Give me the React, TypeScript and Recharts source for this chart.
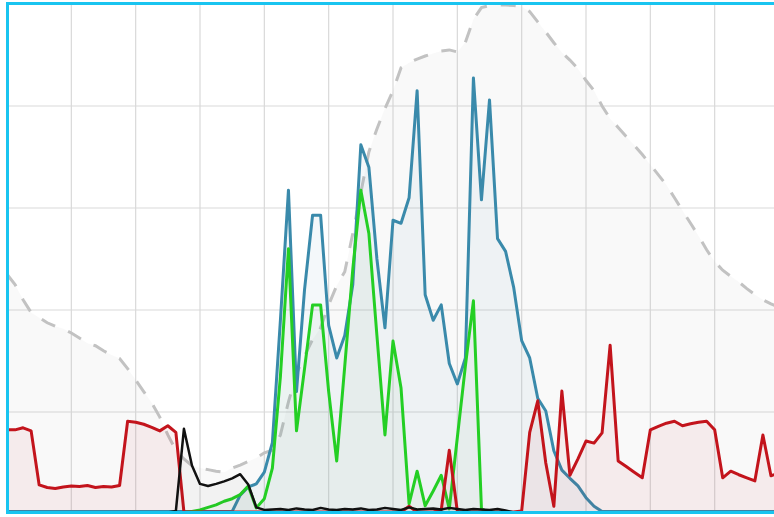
import React from 'react';
import { ComposedChart, Area, XAxis, YAxis, CartesianGrid } from 'recharts';

// category positions (sample index along the x axis)
const positions = [
  0, 1, 2, 3, 4, 5, 6, 7, 8, 9, 10, 11, 12, 13, 14, 15, 16, 17, 18, 19,
  20, 21, 22, 23, 24, 25, 26, 27, 28, 29, 30, 31, 32, 33, 34, 35, 36, 37, 38, 39,
  40, 41, 42, 43, 44, 45, 46, 47, 48, 49, 50, 51, 52, 53, 54, 55, 56, 57, 58, 59,
  60, 61, 62, 63, 64, 65, 66, 67, 68, 69, 70, 71, 72, 73, 74, 75, 76, 77, 78, 79,
  80, 81, 82, 83, 84, 85, 86, 87, 88, 89, 90, 91, 92, 93, 94, 95, 96,
];

const xTicks = [0, 8, 16, 24, 32, 40, 48, 56, 64, 72, 80, 88, 96];
const yTicks = [0, 20, 40, 60, 80, 100];

const graySeries = [
  47, 45, 42, 39.5, 38.5, 37.5, 36.8, 36.3, 35.5, 34.5,
  33.5, 33, 32, 31.2, 30.5, 28.5, 26.3, 24, 21.8, 19,
  15.5, 12.5, 10.8, 9.5, 9, 8.7, 8.4, 8.2, 9, 9.6,
  10.3, 11, 12, 12.5, 15.5, 22, 27.5, 31, 34.2, 36.5,
  41, 44.8, 47.5, 55, 63, 71, 75.5, 79.5, 83, 87.5,
  88.5, 89.2, 89.8, 90.3, 90.8, 91, 90.6, 92.5, 97, 99.3,
  99.7, 99.8, 99.8, 99.7, 99.5, 98.5, 96.5, 94.5, 92.4, 90.5,
  89, 87.3, 85, 83, 80, 77.5, 75.8, 74, 72.3, 70.5,
  68.5, 66.5, 64.5, 62, 59.5, 57, 54.5, 51.8, 49.5, 47.8,
  46.6, 45.5, 44.2, 43, 42, 41.2, 40.5,
];

const blueSeries = [
  0.5, 0.5, 0.5, 0.5, 0.5, 0.5, 0.5, 0.5, 0.5, 0.5,
  0.5, 0.5, 0.5, 0.5, 0.5, 0.5, 0.5, 0.5, 0.5, 0.5,
  0.5, 0.5, 0.5, 0.5, 0.5, 0.5, 0.5, 0.5, 0.5, 3.7,
  5.3, 5.9, 8.2, 14, 38, 63.5, 24, 44, 58.6, 58.6,
  37, 30.6, 35, 45, 72.4, 68, 50, 36.5, 57.6, 57,
  62, 83, 43, 38, 41, 29.5, 25.5, 30.6, 85.5, 61.6,
  81.2, 54, 51.5, 44.5, 34, 30.6, 22.7, 20.2, 12.4, 8.6,
  7, 5.5, 3.2, 1.5, 0.5, 0.5, 0.5, 0.5, 0.5, 0.5,
  0.5, 0.5, 0.5, 0.5, 0.5, 0.5, 0.5, 0.5, 0.5, 0.5,
  0.5, 0.5, 0.5, 0.5, 0.5, 0.5, 0.5,
];

const greenSeries = [
  0.3, 0.3, 0.3, 0.3, 0.3, 0.3, 0.3, 0.3, 0.3, 0.3,
  0.3, 0.3, 0.3, 0.3, 0.3, 0.3, 0.3, 0.3, 0.3, 0.3,
  0.3, 0.3, 0.3, 0.5, 0.8, 1.3, 1.8, 2.5, 3, 3.8,
  5.5, 1.2, 3, 9, 27, 52, 16.3, 28.5, 41, 41,
  24, 10.4, 29, 48, 63.5, 55, 35, 15.5, 33.9, 24.7,
  2, 8.4, 1.6, 4.5, 7.6, 1, 15, 29, 41.8, 1,
  0.3, 0.3, 0.3, 0.3, 0.3, 0.3, 0.3, 0.3, 0.3, 0.3,
  0.3, 0.3, 0.3, 0.3, 0.3, 0.3, 0.3, 0.3, 0.3, 0.3,
  0.3, 0.3, 0.3, 0.3, 0.3, 0.3, 0.3, 0.3, 0.3, 0.3,
  0.3, 0.3, 0.3, 0.3, 0.3, 0.3, 0.3,
];

const redSeries = [
  16.5, 16.5, 16.9, 16.3, 5.7, 5.2, 5.0, 5.3, 5.5, 5.4,
  5.6, 5.2, 5.4, 5.3, 5.6, 18.2, 18, 17.6, 17, 16.3,
  17.3, 16, 0.4, 0.4, 0.4, 0.4, 0.4, 0.4, 0.4, 0.4,
  0.4, 0.4, 0.4, 0.4, 0.4, 0.4, 0.4, 0.4, 0.4, 0.4,
  0.4, 0.4, 0.4, 0.4, 0.4, 0.4, 0.4, 0.4, 0.4, 0.4,
  1.5, 0.4, 0.4, 0.4, 0.8, 12.5, 0.5, 0.4, 0.4, 0.4,
  0.4, 0.4, 0.4, 0.4, 0.6, 16, 22.2, 10, 1.5, 24.1,
  7.6, 10.8, 14.3, 13.9, 15.9, 33.1, 10.4, 9.3, 8.2, 7.1,
  16.5, 17.2, 17.8, 18.2, 17.3, 17.7, 18, 18.2, 16.5, 7.1,
  8.4, 7.7, 7.1, 6.5, 15.5, 7.5, 8,
];

const blackSeries = [
  0.3, 0.3, 0.3, 0.3, 0.3, 0.3, 0.3, 0.3, 0.3, 0.3,
  0.3, 0.3, 0.3, 0.3, 0.3, 0.3, 0.3, 0.3, 0.3, 0.3,
  0.3, 0.6, 16.7, 9.5, 5.9, 5.5, 5.9, 6.4, 7, 7.8,
  5.8, 1.3, 0.8, 0.9, 1.0, 0.8, 1.1, 0.9, 0.8, 1.2,
  0.9, 0.8, 1.0, 0.9, 1.1, 0.8, 0.9, 1.2, 1.0, 0.8,
  1.3, 0.9, 1.0, 1.1, 0.9, 1.2, 1.0, 0.8, 1.0, 0.9,
  0.8, 1.0, 0.7, 0.3, 0.3, 0.3, 0.3, 0.3, 0.3, 0.3,
  0.3, 0.3, 0.3, 0.3, 0.3, 0.3, 0.3, 0.3, 0.3, 0.3,
  0.3, 0.3, 0.3, 0.3, 0.3, 0.3, 0.3, 0.3, 0.3, 0.3,
  0.3, 0.3, 0.3, 0.3, 0.3, 0.3, 0.3,
];

const data = positions.map((x, i) => ({
  x,
  gray: graySeries[i],
  blue: blueSeries[i],
  green: greenSeries[i],
  red: redSeries[i],
  black: blackSeries[i],
}));

export default function App() {
  return (
    <div
      style={{
        position: 'fixed',
        left: 0,
        top: 0,
        width: 774,
        height: 517,
        overflow: 'hidden',
        background: '#ffffff',
      }}
    >
      <div style={{ position: 'absolute', left: 7, top: 4 }}>
        <ComposedChart
          width={772}
          height={510}
          data={data}
          margin={{ top: 0, right: 0, bottom: 0, left: 0 }}
        >
          <CartesianGrid stroke="#d9d9d9" strokeWidth={1.2} />
          <XAxis
            dataKey="x"
            type="number"
            domain={[0, 96]}
            ticks={xTicks}
            hide
          />
          <YAxis
            type="number"
            domain={[0, 100]}
            ticks={yTicks}
            allowDataOverflow
            hide
          />
          <Area
            type="linear"
            dataKey="gray"
            stroke="#c2c2c2"
            strokeWidth={3}
            strokeDasharray="15 14"
            fill="#c0c0c0"
            fillOpacity={0.09}
            dot={false}
            activeDot={false}
            isAnimationActive={false}
          />
          <Area
            type="linear"
            dataKey="blue"
            stroke="#3a8aab"
            strokeWidth={3}
            strokeLinejoin="round"
            fill="#6a9ab5"
            fillOpacity={0.07}
            dot={false}
            activeDot={false}
            isAnimationActive={false}
          />
          <Area
            type="linear"
            dataKey="green"
            stroke="#24cf24"
            strokeWidth={3}
            strokeLinejoin="round"
            fill="#5aa060"
            fillOpacity={0.05}
            dot={false}
            activeDot={false}
            isAnimationActive={false}
          />
          <Area
            type="linear"
            dataKey="red"
            stroke="#c3141c"
            strokeWidth={3}
            strokeLinejoin="round"
            fill="#c3141c"
            fillOpacity={0.06}
            dot={false}
            activeDot={false}
            isAnimationActive={false}
          />
          <Area
            type="linear"
            dataKey="black"
            stroke="#111111"
            strokeWidth={2.5}
            strokeLinejoin="round"
            fill="#111111"
            fillOpacity={0.03}
            dot={false}
            activeDot={false}
            isAnimationActive={false}
          />
        </ComposedChart>
      </div>
      <div
        style={{
          position: 'absolute',
          left: 6,
          top: 2,
          width: 840,
          height: 512,
          boxSizing: 'border-box',
          border: '3px solid #19c4f0',
          pointerEvents: 'none',
        }}
      />
    </div>
  );
}
